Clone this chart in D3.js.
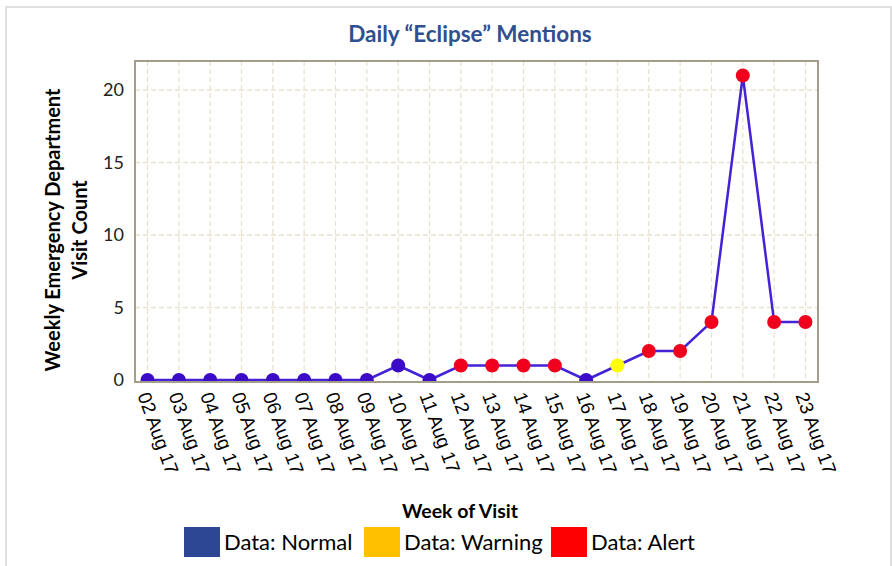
<!DOCTYPE html>
<html>
<head>
<meta charset="utf-8">
<script src="https://cdn.jsdelivr.net/npm/d3@7"></script>
<style>
    body { margin: 0; background: #fff; }
    svg { display: block; }
</style>
</head>
<body>
<script>
//days on the x axis
var days = ["02 Aug 17", "03 Aug 17", "04 Aug 17", "05 Aug 17", "06 Aug 17", "07 Aug 17",
    "08 Aug 17", "09 Aug 17", "10 Aug 17", "11 Aug 17", "12 Aug 17", "13 Aug 17",
    "14 Aug 17", "15 Aug 17", "16 Aug 17", "17 Aug 17", "18 Aug 17", "19 Aug 17",
    "20 Aug 17", "21 Aug 17", "22 Aug 17", "23 Aug 17"];

//visit counts per day
var counts = [0, 0, 0, 0, 0, 0, 0, 0, 1, 0, 1, 1, 1, 1, 0, 1, 2, 2, 4, 21, 4, 4];

//alert level of each point
var levels = ["normal", "normal", "normal", "normal", "normal", "normal", "normal", "normal",
    "normal", "normal", "alert", "alert", "alert", "alert", "normal", "warning",
    "alert", "alert", "alert", "alert", "alert", "alert"];

//y tick values
var yTicks = [0, 5, 10, 15, 20];

//legend entries
var legendNames = ["Data: Normal", "Data: Warning", "Data: Alert"];

window.onload = function(){

    var w = 892, h = 566;

    //plot area edges
    var left = 135, right = 818, top = 61, bottom = 382;

    var svg = d3.select("body")
        .append("svg")
        .attr("width", w)
        .attr("height", h);

    //light grey outer border
    svg.append("rect")
        .attr("x", 6)
        .attr("y", 7)
        .attr("width", 885)
        .attr("height", 600)
        .style("fill", "none")
        .style("stroke", "#e0e0e0")
        .style("stroke-width", 2);

    var data = days.map(function(d, i){
        return { day: d, count: counts[i], level: levels[i] };
    });

    //scales
    var x = d3.scalePoint()
        .domain(days)
        .range([left, right])
        .padding(0.4);

    var y = d3.scaleLinear()
        .domain([0, 22])
        .range([380, top]);

    var markColor = { normal: "#3a0cc8", warning: "#ffff00", alert: "#f0001c" };

    //dashed grid
    svg.append("g")
        .selectAll("line")
        .data(days)
        .enter()
        .append("line")
        .attr("x1", function(d){ return x(d); })
        .attr("x2", function(d){ return x(d); })
        .attr("y1", top)
        .attr("y2", bottom)
        .style("stroke", "#e8e1cc")
        .style("stroke-width", 1.2)
        .style("stroke-dasharray", "5,3");

    svg.append("g")
        .selectAll("line")
        .data(yTicks.slice(1))
        .enter()
        .append("line")
        .attr("x1", left)
        .attr("x2", right)
        .attr("y1", function(d){ return y(d); })
        .attr("y2", function(d){ return y(d); })
        .style("stroke", "#e8e1cc")
        .style("stroke-width", 1.5)
        .style("stroke-dasharray", "5,3");

    //clip so zero points are cut at the frame
    svg.append("clipPath")
        .attr("id", "plotClip")
        .append("rect")
        .attr("x", left)
        .attr("y", top)
        .attr("width", right - left)
        .attr("height", bottom - top);

    var plot = svg.append("g")
        .attr("clip-path", "url(#plotClip)");

    var line = d3.line()
        .x(function(d){ return x(d.day); })
        .y(function(d){ return y(d.count); });

    plot.append("path")
        .datum(data)
        .attr("d", line)
        .style("fill", "none")
        .style("stroke", "#4422d6")
        .style("stroke-width", 2.5);

    plot.selectAll(".pt")
        .data(data)
        .enter()
        .append("circle")
        .attr("class", "pt")
        .attr("cx", function(d){ return x(d.day); })
        .attr("cy", function(d){ return y(d.count); })
        .attr("r", 7)
        .style("fill", function(d){ return markColor[d.level]; });

    //plot frame
    svg.append("rect")
        .attr("x", left)
        .attr("y", top)
        .attr("width", right - left)
        .attr("height", bottom - top)
        .style("fill", "none")
        .style("stroke", "#a39d8a")
        .style("stroke-width", 2);

    //y axis labels
    svg.append("g")
        .selectAll("text")
        .data(yTicks)
        .enter()
        .append("text")
        .attr("x", 124)
        .attr("y", function(d){ return y(d); })
        .attr("dy", "0.35em")
        .attr("text-anchor", "end")
        .style("font-family", "Lato, sans-serif")
        .style("font-size", "18px")
        .style("fill", "#222")
        .text(function(d){ return d; });

    //x axis labels, rotated
    svg.append("g")
        .selectAll("text")
        .data(days)
        .enter()
        .append("text")
        .attr("transform", function(d){
            return "translate(" + (x(d) - 4) + ",393) rotate(70)";
        })
        .attr("dy", "0.35em")
        .attr("text-anchor", "start")
        .style("font-family", "'Liberation Sans', Arial, sans-serif")
        .style("font-size", "19px")
        .style("fill", "#000")
        .text(function(d){ return d; });

    //title
    svg.append("text")
        .attr("x", 470)
        .attr("y", 42)
        .attr("text-anchor", "middle")
        .style("font-family", "Lato, sans-serif")
        .style("font-weight", "bold")
        .style("font-size", "22.5px")
        .style("fill", "#2f4f8f")
        .text("Daily \u201cEclipse\u201d Mentions");

    //y axis title, two lines
    var yTitle = svg.append("text")
        .attr("transform", "translate(53,230) rotate(-90)")
        .attr("text-anchor", "middle")
        .style("font-family", "Lato, sans-serif")
        .style("font-weight", "bold")
        .style("font-size", "20px")
        .style("fill", "#000");

    yTitle.append("tspan")
        .attr("x", 0)
        .attr("y", 0)
        .attr("dy", "0.35em")
        .text("Weekly Emergency Department");

    yTitle.append("tspan")
        .attr("x", 0)
        .attr("y", 27)
        .attr("dy", "0.35em")
        .text("Visit Count");

    //x axis title
    svg.append("text")
        .attr("x", 460)
        .attr("y", 518)
        .attr("text-anchor", "middle")
        .style("font-family", "Lato, sans-serif")
        .style("font-weight", "bold")
        .style("font-size", "19.5px")
        .style("fill", "#000")
        .text("Week of Visit");

    //legend
    var legendColor = ["#2e4795", "#ffc000", "#ff0000"];
    var legendX = [184, 364, 551];

    var legend = svg.selectAll(".legend")
        .data(legendNames)
        .enter()
        .append("g")
        .attr("class", "legend")
        .attr("transform", function(d, i){
            return "translate(" + legendX[i] + ",527)";
        });

    legend.append("rect")
        .attr("width", 36)
        .attr("height", 30)
        .style("fill", function(d, i){ return legendColor[i]; });

    legend.append("text")
        .attr("x", 40)
        .attr("y", 23)
        .style("font-family", "Lato, sans-serif")
        .style("font-size", "22px")
        .style("fill", "#000")
        .text(function(d){ return d; });
};
</script>
</body>
</html>
